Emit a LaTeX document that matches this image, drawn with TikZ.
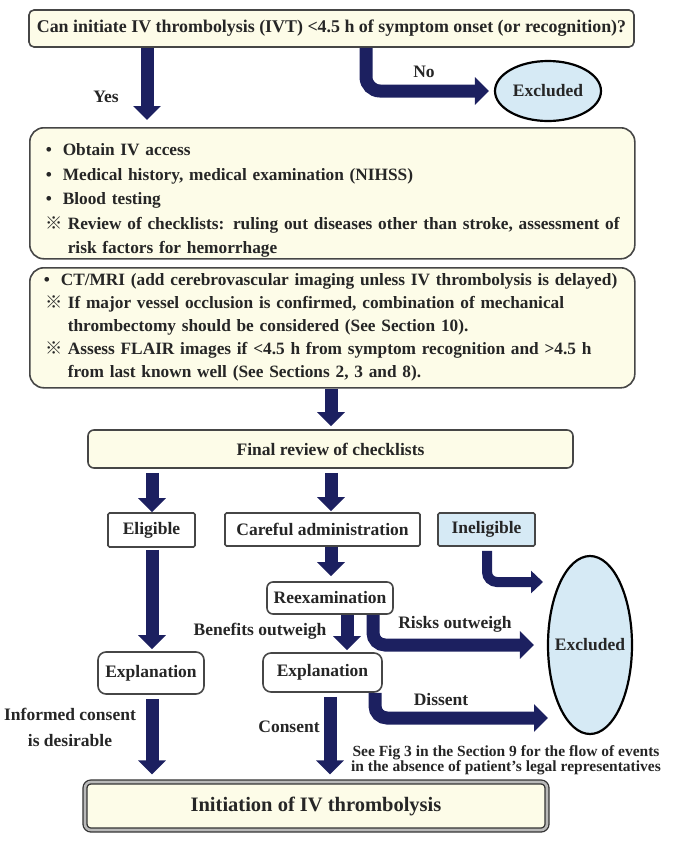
\documentclass[tikz,border=0pt]{standalone}
\usepackage{fontspec}
\setmainfont{Liberation Serif}
\newfontfamily\cjkfont{Noto Sans CJK JP}
\usetikzlibrary{arrows.meta,shapes.geometric}
\definecolor{navy}{RGB}{28,32,96}
\definecolor{cream}{RGB}{253,252,232}
\definecolor{lblue}{RGB}{214,234,245}
\definecolor{edge}{RGB}{70,70,70}
\newcommand{\bul}{\makebox[17pt][l]{\textbullet}}
\newcommand{\refm}{\makebox[22pt][l]{{\cjkfont ※}}}
\newcommand{\boxline}[1]{\mbox{\hspace*{2pt}#1}}
\begin{document}
\begin{tikzpicture}[x=1pt,y=-1pt,
  every node/.style={font=\fontsize{17.5}{24}\selectfont\bfseries, text=black!85},
  ybox/.style={draw=edge, line width=1.6pt, fill=cream, rounded corners=#1, inner sep=0pt},
  ybox/.default=5pt,
  wbox/.style={draw=edge, line width=1.6pt, fill=white, rounded corners=#1, inner sep=0pt},
  wbox/.default=1.5pt,
  exell/.style={ellipse, draw=black, line width=2.2pt, fill=lblue, inner sep=0pt},
  bigarrow/.style={draw=navy, line width=13pt, -{Triangle[width=27pt,length=14pt]}},
  smallarrow/.style={draw=navy, line width=10pt, -{Triangle[width=22pt,length=12pt]}}]
\useasboundingbox (0,0) rectangle (674,860);

% boxes
\node[ybox, minimum width=605pt, minimum height=37pt, font=\fontsize{17.9}{24}\selectfont\bfseries] (q) at (331.5,28.5)
  {Can initiate IV thrombolysis (IVT) <4.5 h of symptom onset (or recognition)?};
\node[ybox=14pt, anchor=north west, minimum height=131pt, text width=591pt, inner xsep=7pt, align=left,
  font=\fontsize{17.3}{24.5}\selectfont\bfseries] (b2) at (29,127)
  {\boxline{\rule{0pt}{27pt}\hspace*{7pt}\bul Obtain IV access}\\
   \boxline{\hspace*{7pt}\bul Medical history, medical examination (NIHSS)}\\
   \boxline{\hspace*{7pt}\bul Blood testing}\\
   \boxline{\hspace*{7pt}\refm Review of checklists: ruling out diseases other than stroke, assessment of}\\
   \boxline{\hspace*{29pt}risk factors for hemorrhage}};
\node[ybox=14pt, anchor=north west, minimum height=120pt, text width=591pt, inner xsep=7pt, align=left,
  font=\fontsize{17.3}{23}\selectfont\bfseries] (b3) at (29,267)
  {\boxline{\hspace*{5pt}\bul CT/MRI (add cerebrovascular imaging unless IV thrombolysis is delayed)}\\
   \boxline{\hspace*{7pt}\refm If major vessel occlusion is confirmed, combination of mechanical}\\
   \boxline{\hspace*{29pt}thrombectomy should be considered (See Section 10).}\\
   \boxline{\hspace*{7pt}\refm Assess FLAIR images if <4.5 h from symptom recognition and >4.5 h}\\
   \boxline{\hspace*{29pt}from last known well (See Sections 2, 3 and 8).}};
\node[ybox=6pt, minimum width=485pt, minimum height=38pt] (fr) at (330.5,449) {Final review of checklists};
\node[wbox, minimum width=87pt, minimum height=34pt] (el) at (151.5,530) {Eligible};
\node[wbox, minimum width=195pt, minimum height=33pt] (ca) at (322.5,529.5) {Careful administration};
\node[wbox, fill=lblue, minimum width=97pt, minimum height=33pt] (inel) at (486.5,529.5) {Ineligible};
\node[wbox=6pt, minimum width=126pt, minimum height=32pt] (rx) at (330,598) {Reexamination};
\node[wbox=8pt, minimum width=106pt, minimum height=42pt] (eL) at (151,673) {Explanation};
\node[wbox=8pt, minimum width=119pt, minimum height=39pt] (eM) at (322.5,672.5) {Explanation};
\node[draw=black!80, line width=1.3pt, double=gray!55, double distance=2.6pt, fill=cream, rounded corners=6pt,
  minimum width=462pt, minimum height=48pt, inner sep=0pt, font=\fontsize{20.5}{24}\selectfont\bfseries] (fin) at (316,806)
  {Initiation of IV thrombolysis};
\node[exell, minimum width=106pt, minimum height=60pt] (ex1) at (548,91) {\makebox[0pt]{Excluded}};
\node[exell, minimum width=84pt, minimum height=178pt] (ex2) at (590,645) {\makebox[0pt]{Excluded}};

% labels
\node (yes) at (106,97) {Yes};
\node (no) at (424,72) {No};
\node (ben) at (260,631) {Benefits outweigh};
\node (risk) at (455,624) {Risks outweigh};
\node (dis) at (441,700) {Dissent};
\node (con) at (289,727) {Consent};
\node[align=center, font=\fontsize{17.5}{26}\selectfont\bfseries] (inf) at (70,727) {Informed consent\\is desirable};
\node[align=center, font=\fontsize{15.5}{15.5}\selectfont\bfseries] (note) at (506,760)
  {See Fig 3 in the Section 9 for the flow of events\\in the absence of patient's legal representatives};

% arrow x positions and free ends
\coordinate (xa) at (147,0);
\coordinate (xb) at (366,0);
\coordinate (xc) at (331,0);
\coordinate (xd) at (152,0);
\coordinate (xe) at (347,0);
\coordinate (xf) at (373,0);
\coordinate (xg) at (375,0);
\coordinate (xh) at (487,0);
\coordinate (xi) at (330,0);
\coordinate (dend) at (548,718);
\coordinate (iend) at (543,582);

% arrows
\draw[bigarrow, shorten >=7pt] (q.south -| xa) -- (b2.north -| xa);
\draw[bigarrow, rounded corners=14pt, shorten >=5pt] (q.south -| xb) |- (ex1.west);
\draw[bigarrow, shorten >=3pt] (b3.south -| xc) -- (fr.north -| xc);
\draw[bigarrow, shorten <=4pt] (fr.south -| xd) -- (el.north -| xd);
\draw[bigarrow, shorten <=4pt, shorten >=1pt] (fr.south -| xc) -- (ca.north -| xc);
\draw[bigarrow, shorten <=2pt, shorten >=2pt] (el.south -| xd) -- (eL.north -| xd);
\draw[bigarrow, shorten >=5pt] (ca.south -| xc) -- (rx.north -| xc);
\draw[bigarrow, shorten >=2pt] (rx.south -| xe) -- (eM.north -| xe);
\draw[bigarrow, rounded corners=12pt, shorten >=13pt] (rx.south -| xf) |- (ex2.west);
\draw[bigarrow, rounded corners=12pt] (eM.south -| xg) |- (dend);
\draw[smallarrow, rounded corners=10pt, shorten <=4pt] (inel.south -| xh) |- (iend);
\draw[bigarrow, shorten <=4pt, shorten >=7pt] (eL.south -| xd) -- (fin.north -| xd);
\draw[bigarrow, shorten <=4pt, shorten >=7pt] (eM.south -| xi) -- (fin.north -| xi);
\end{tikzpicture}
\end{document}
